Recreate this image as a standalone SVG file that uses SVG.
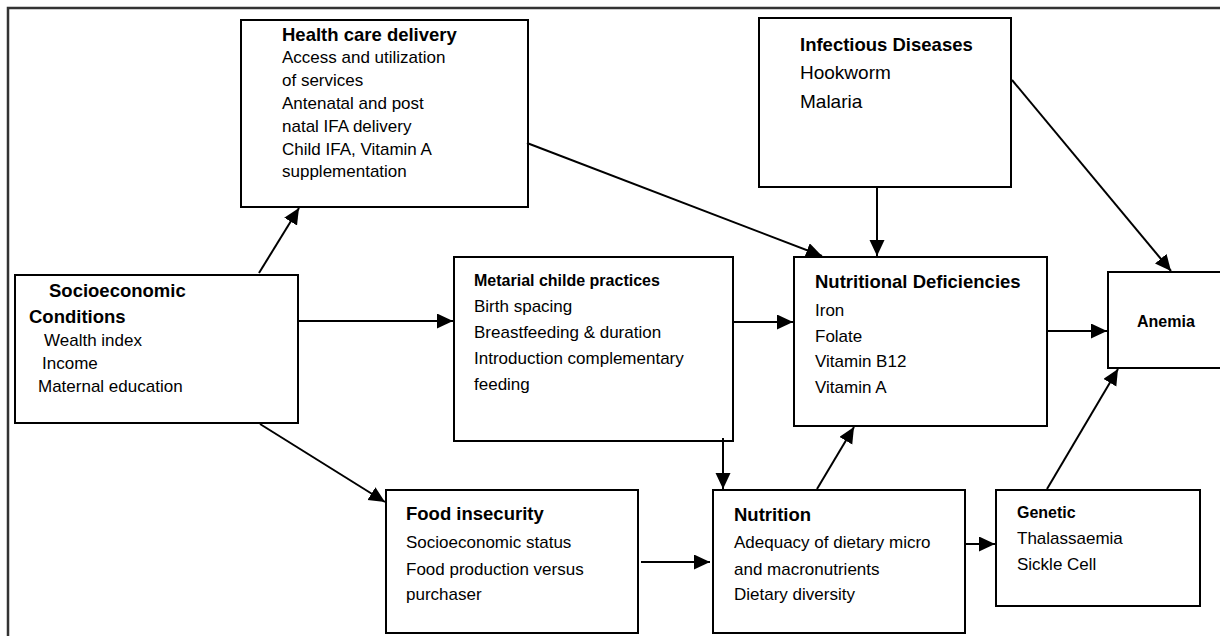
<svg xmlns="http://www.w3.org/2000/svg" width="1220" height="636" viewBox="0 0 1220 636">
<style>
  .box{fill:#fff;stroke:#000;stroke-width:2}
  .t{font-family:"Liberation Sans",Arial,sans-serif;font-size:17px;fill:#000}
  .b{font-family:"Liberation Sans",Arial,sans-serif;font-size:18.5px;font-weight:bold;fill:#000}
  .bs{font-family:"Liberation Sans",Arial,sans-serif;font-size:16px;font-weight:bold;fill:#000}
  .big{font-family:"Liberation Sans",Arial,sans-serif;font-size:19px;fill:#000}
  .c line{stroke:#000;stroke-width:2;marker-end:url(#ah)}
</style>
<defs>
  <marker id="ah" markerUnits="userSpaceOnUse" markerWidth="17" markerHeight="16" refX="16" refY="7.5" orient="auto">
    <path d="M0,0 L16,7.5 L0,15 z" fill="#000"/>
  </marker>
</defs>
<rect x="0" y="0" width="1220" height="636" fill="#fff"/>
<rect x="8" y="8" width="1300" height="700" fill="none" stroke="#333" stroke-width="2.5"/>

<g id="health">
  <rect class="box" x="241" y="20" width="287" height="187"/>
  <text class="b" x="282" y="41">Health care delivery</text>
  <text class="t" x="282" y="63">Access and utilization</text>
  <text class="t" x="282" y="86">of services</text>
  <text class="t" x="282" y="109">Antenatal and post</text>
  <text class="t" x="282" y="132">natal IFA delivery</text>
  <text class="t" x="282" y="155">Child IFA, Vitamin A</text>
  <text class="t" x="282" y="177">supplementation</text>
</g>

<g id="infectious">
  <rect class="box" x="759" y="18" width="252" height="169"/>
  <text class="b" x="800" y="51">Infectious Diseases</text>
  <text class="big" x="800" y="79">Hookworm</text>
  <text class="big" x="800" y="108">Malaria</text>
</g>

<g id="socio">
  <rect class="box" x="15" y="275" width="283" height="148"/>
  <text class="b" x="49" y="297">Socioeconomic</text>
  <text class="b" x="29" y="323">Conditions</text>
  <text class="t" x="44" y="346">Wealth index</text>
  <text class="t" x="42" y="369">Income</text>
  <text class="t" x="38" y="392">Maternal education</text>
</g>

<g id="maternal">
  <rect class="box" x="454" y="257" width="279" height="184"/>
  <text class="bs" x="474" y="286">Metarial childe practices</text>
  <text class="t" x="474" y="312">Birth spacing</text>
  <text class="t" x="474" y="338">Breastfeeding &amp; duration</text>
  <text class="t" x="474" y="364">Introduction complementary</text>
  <text class="t" x="474" y="390">feeding</text>
</g>

<g id="nutdef">
  <rect class="box" x="794" y="257" width="253" height="169"/>
  <text class="b" x="815" y="288">Nutritional Deficiencies</text>
  <text class="t" x="815" y="316">Iron</text>
  <text class="t" x="815" y="342">Folate</text>
  <text class="t" x="815" y="367">Vitamin B12</text>
  <text class="t" x="815" y="393">Vitamin A</text>
</g>

<g id="anemia">
  <rect class="box" x="1108" y="272" width="130" height="96"/>
  <text class="bs" x="1137" y="327">Anemia</text>
</g>

<g id="food">
  <rect class="box" x="386" y="490" width="252" height="143"/>
  <text class="b" x="406" y="520">Food insecurity</text>
  <text class="t" x="406" y="548">Socioeconomic status</text>
  <text class="t" x="406" y="575">Food production versus</text>
  <text class="t" x="406" y="600">purchaser</text>
</g>

<g id="nutrition">
  <rect class="box" x="713" y="490" width="252" height="143"/>
  <text class="b" x="734" y="521">Nutrition</text>
  <text class="t" x="734" y="548">Adequacy of dietary micro</text>
  <text class="t" x="734" y="575">and macronutrients</text>
  <text class="t" x="734" y="600">Dietary diversity</text>
</g>

<g id="genetic">
  <rect class="box" x="996" y="490" width="204" height="116"/>
  <text class="bs" x="1017" y="518">Genetic</text>
  <text class="t" x="1017" y="544">Thalassaemia</text>
  <text class="t" x="1017" y="570">Sickle Cell</text>
</g>

<g id="connectors" class="c">
  <line x1="259" y1="273" x2="299" y2="208"/>
  <line x1="299" y1="321" x2="453" y2="321"/>
  <line x1="260" y1="424" x2="385" y2="502"/>
  <line x1="527" y1="143" x2="822" y2="256"/>
  <line x1="877" y1="187" x2="877" y2="256"/>
  <line x1="1012" y1="80" x2="1171" y2="271"/>
  <line x1="733" y1="322" x2="793" y2="322"/>
  <line x1="723" y1="438" x2="723" y2="489"/>
  <line x1="817" y1="489" x2="854" y2="427"/>
  <line x1="1047" y1="331" x2="1107" y2="331"/>
  <line x1="641" y1="562" x2="710" y2="562"/>
  <line x1="965" y1="544" x2="995" y2="544"/>
  <line x1="1047" y1="489" x2="1118" y2="369"/>
</g>
</svg>
